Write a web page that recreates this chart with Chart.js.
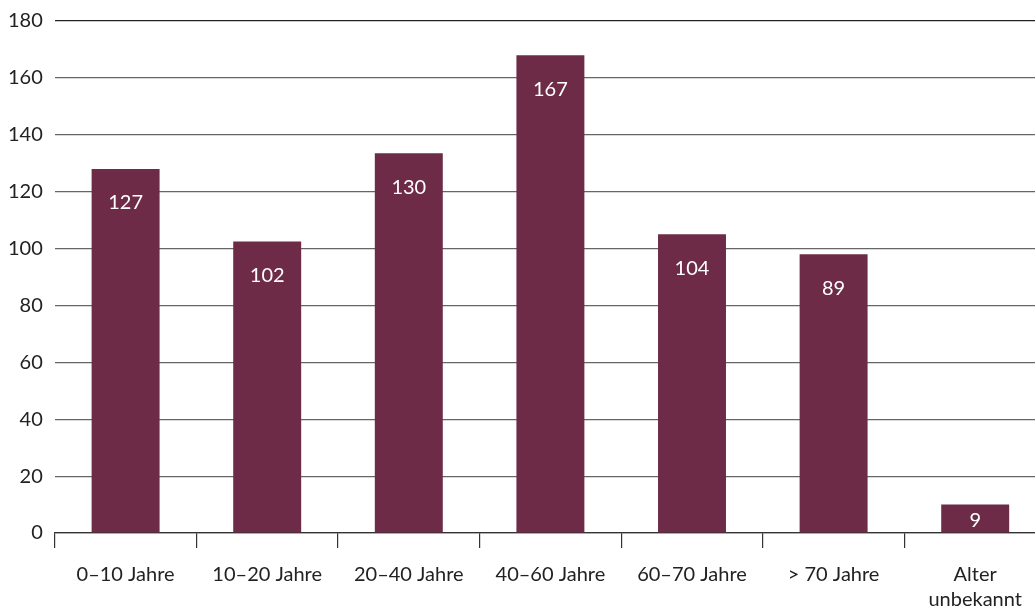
<!DOCTYPE html>
<html>
<head>
<meta charset="utf-8">
<script src="https://cdn.jsdelivr.net/npm/chart.js@4/dist/chart.umd.min.js"></script>
<style>
  html, body { margin: 0; padding: 0; background: #fff; overflow: hidden; }
  #wrap { width: 1046px; height: 629px; margin-top: -3px; }
</style>
</head>
<body>
<div id="wrap"><canvas id="chart"></canvas></div>
<script>
// Age groups
var categories = ["0–10 Jahre", "10–20 Jahre", "20–40 Jahre", "40–60 Jahre", "60–70 Jahre", "> 70 Jahre", ["Alter", "unbekannt"]];
// Bar heights as drawn in the picture
var barHeights = [128, 102.5, 133.5, 168, 105, 98, 10];
// Numbers printed inside the bars
var barLabels = ["127", "102", "130", "167", "104", "89", "9"];
// Y axis ticks
var yTicks = [0, 20, 40, 60, 80, 100, 120, 140, 160, 180];

var barColor = "#6d2b47";
var fontFamily = "Lato, 'Open Sans', sans-serif";

// draws the white numbers near the top of each bar
var insideLabels = {
	id: "insideLabels",
	afterDatasetsDraw: function(chart) {
		var ctx = chart.ctx;
		var meta = chart.getDatasetMeta(0);
		var base = chart.scales.y.getPixelForValue(0);
		ctx.save();
		ctx.fillStyle = "#ffffff";
		ctx.font = "20px " + fontFamily;
		ctx.textAlign = "center";
		ctx.textBaseline = "middle";
		meta.data.forEach(function(bar, i) {
			var y = Math.min(bar.y + 34, base - 12);
			ctx.fillText(barLabels[i], bar.x, y);
		});
		ctx.restore();
	}
};

var ctx = document.getElementById("chart").getContext("2d");
new Chart(ctx, {
	type: "bar",
	data: {
		labels: categories,
		datasets: [{
			data: barHeights,
			backgroundColor: barColor,
			barPercentage: 0.48,
			categoryPercentage: 1
		}]
	},
	options: {
		responsive: true,
		maintainAspectRatio: false,
		animation: false,
		layout: { padding: { top: 0, left: -4, right: 0, bottom: 0 } },
		plugins: {
			legend: { display: false },
			tooltip: { enabled: false }
		},
		scales: {
			x: {
				offset: true,
				grid: {
					offset: true,
					drawOnChartArea: false,
					drawTicks: true,
					tickLength: 15,
					color: "#333",
					lineWidth: 1.2
				},
				border: { display: true, color: "#333", width: 1.2 },
				ticks: {
					color: "#222",
					font: { family: fontFamily, size: 20, lineHeight: 1.25 },
					padding: 14,
					maxRotation: 0,
					autoSkip: false
				}
			},
			y: {
				min: 0,
				max: 180,
				afterBuildTicks: function(axis) {
					axis.ticks = yTicks.map(function(v) { return { value: v }; });
				},
				grid: {
					drawTicks: false,
					color: function(c) {
						return c.tick && c.tick.value === 180 ? "#222" : "#666";
					},
					lineWidth: 1.2
				},
				border: { display: false },
				ticks: {
					color: "#222",
					font: { family: fontFamily, size: 20 },
					padding: 12
				}
			}
		}
	},
	plugins: [insideLabels]
});
</script>
</body>
</html>
